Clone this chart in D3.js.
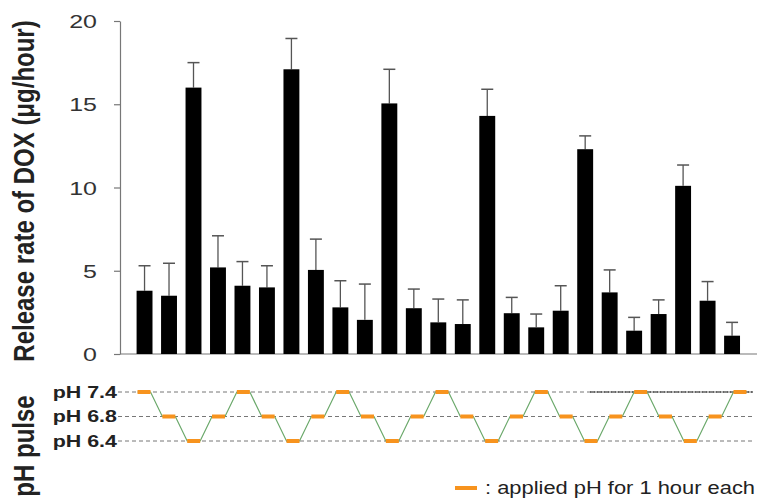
<!DOCTYPE html>
<html>
<head>
<meta charset="utf-8">
<script src="https://cdn.jsdelivr.net/npm/d3@7"></script>
<style>
  body { margin: 0; background: #fff; }
  text { font-family: "Liberation Sans", Arial, sans-serif; }
</style>
</head>
<body>
<div id="chart"></div>
<script>
// hourly samples
var hours = d3.range(1, 26);
// release rate of DOX (ug/hour), mean per hour
var release = [3.8, 3.5, 16.0, 5.2, 4.1, 4.0, 17.1, 5.05, 2.8, 2.05, 15.05, 2.75, 1.9,
               1.8, 14.3, 2.45, 1.6, 2.6, 12.3, 3.7, 1.4, 2.4, 10.1, 3.2, 1.1];
// upper error (SD)
var errors = [1.5, 1.95, 1.5, 1.9, 1.45, 1.3, 1.85, 1.85, 1.6, 2.15, 2.05, 1.15, 1.4,
              1.45, 1.6, 0.95, 0.8, 1.5, 0.8, 1.35, 0.8, 0.85, 1.25, 1.15, 0.8];
// applied pH pulse per hour
var pulse = ["pH 7.4", "pH 6.8", "pH 6.4", "pH 6.8", "pH 7.4", "pH 6.8", "pH 6.4", "pH 6.8",
             "pH 7.4", "pH 6.8", "pH 6.4", "pH 6.8", "pH 7.4", "pH 6.8", "pH 6.4", "pH 6.8",
             "pH 7.4", "pH 6.8", "pH 6.4", "pH 6.8", "pH 7.4", "pH 6.8", "pH 6.4", "pH 6.8", "pH 7.4"];
var phLevels = ["pH 7.4", "pH 6.8", "pH 6.4"];
var yTicks = [0, 5, 10, 15, 20];

var width = 760, height = 500;
var svg = d3.select("#chart").append("svg")
  .attr("width", width)
  .attr("height", height);

var data = hours.map(function(h, i) {
  return { hour: h, value: release[i], err: errors[i], ph: pulse[i] };
});

// scales
var x = d3.scaleBand()
  .domain(hours)
  .range([132.3, 744.3])
  .paddingInner(0.35)
  .paddingOuter(0.175);

var y = d3.scaleLinear()
  .domain([0, 20])
  .range([354, 21]);

var xPulse = d3.scaleBand()
  .domain(hours)
  .range([131.6, 752.4]);

var yPulse = d3.scalePoint()
  .domain(phLevels)
  .range([392, 441]);

// x axis line
svg.append("line")
  .attr("x1", 120).attr("x2", 757)
  .attr("y1", y(0)).attr("y2", y(0))
  .attr("stroke", "#777")
  .attr("stroke-width", 1.2);

// y axis
var yAxis = svg.append("g")
  .attr("transform", "translate(120,0)")
  .call(d3.axisLeft(y).tickValues(yTicks).tickSize(6).tickSizeOuter(0));
yAxis.select(".domain").attr("stroke", "#777").attr("stroke-width", 1.2);
yAxis.selectAll(".tick line").attr("stroke", "#777").attr("stroke-width", 1.2);
yAxis.selectAll(".tick text")
  .attr("x", -23 / 1.35)
  .attr("dy", "0.36em")
  .attr("transform", "scale(1.35,1)")
  .attr("fill", "#333")
  .style("font-size", "18.5px")
  .style("font-family", "'Liberation Sans', Arial, sans-serif");

// error bars
var eb = svg.append("g").selectAll("g")
  .data(data)
  .enter().append("g");

eb.append("line")
  .attr("x1", function(d) { return x(d.hour) + x.bandwidth() / 2; })
  .attr("x2", function(d) { return x(d.hour) + x.bandwidth() / 2; })
  .attr("y1", function(d) { return y(d.value); })
  .attr("y2", function(d) { return y(d.value + d.err); })
  .attr("stroke", "#555")
  .attr("stroke-width", 1.3);

eb.append("line")
  .attr("x1", function(d) { return x(d.hour) + x.bandwidth() / 2 - 6; })
  .attr("x2", function(d) { return x(d.hour) + x.bandwidth() / 2 + 6; })
  .attr("y1", function(d) { return y(d.value + d.err); })
  .attr("y2", function(d) { return y(d.value + d.err); })
  .attr("stroke", "#555")
  .attr("stroke-width", 1.5);

// bars
svg.append("g").selectAll("rect")
  .data(data)
  .enter().append("rect")
  .attr("x", function(d) { return x(d.hour); })
  .attr("width", x.bandwidth())
  .attr("y", function(d) { return y(d.value); })
  .attr("height", function(d) { return y(0) - y(d.value); })
  .attr("fill", "#000");

// y axis title
svg.append("text")
  .attr("transform", "translate(34,191) scale(1.22,1) rotate(-90)")
  .attr("text-anchor", "middle")
  .attr("fill", "#222")
  .style("font-size", "24px")
  .style("font-weight", "bold")
  .text("Release rate of DOX (μg/hour)");

// pH pulse panel
svg.append("text")
  .attr("transform", "translate(34,446) scale(1.22,1) rotate(-90)")
  .attr("text-anchor", "middle")
  .attr("fill", "#222")
  .style("font-size", "24px")
  .style("font-weight", "bold")
  .text("pH pulse");

// guide lines for each pH level
svg.append("g").selectAll("line")
  .data(phLevels)
  .enter().append("line")
  .attr("x1", 118).attr("x2", 753)
  .attr("y1", function(d) { return yPulse(d); })
  .attr("y2", function(d) { return yPulse(d); })
  .attr("stroke", "#777")
  .attr("stroke-width", 1)
  .attr("stroke-dasharray", "4,3");

// darker overdraw on the right part of the top guide
svg.append("line")
  .attr("x1", 590).attr("x2", 753)
  .attr("y1", yPulse(phLevels[0])).attr("y2", yPulse(phLevels[0]))
  .attr("stroke", "#111")
  .attr("stroke-width", 1.2)
  .attr("stroke-dasharray", "5,2");

// pH level labels
svg.append("g").selectAll("text")
  .data(phLevels)
  .enter().append("text")
  .attr("transform", function(d) { return "translate(117," + yPulse(d) + ") scale(1.3,1)"; })
  .attr("dy", "0.36em")
  .attr("text-anchor", "end")
  .attr("fill", "#222")
  .style("font-size", "16.5px")
  .style("font-weight", "bold")
  .text(function(d) { return d; });

// green connector between the hourly pulses
var dashHalf = 6.5;
var pts = [];
data.forEach(function(d) {
  var cx = xPulse(d.hour) + xPulse.bandwidth() / 2;
  pts.push([cx - dashHalf, yPulse(d.ph)]);
  pts.push([cx + dashHalf, yPulse(d.ph)]);
});
svg.append("path")
  .attr("d", d3.line()(pts))
  .attr("fill", "none")
  .attr("stroke", "#6aa86a")
  .attr("stroke-width", 1.2);

// orange dashes: applied pH
svg.append("g").selectAll("line")
  .data(data)
  .enter().append("line")
  .attr("x1", function(d) { return xPulse(d.hour) + xPulse.bandwidth() / 2 - dashHalf; })
  .attr("x2", function(d) { return xPulse(d.hour) + xPulse.bandwidth() / 2 + dashHalf; })
  .attr("y1", function(d) { return yPulse(d.ph); })
  .attr("y2", function(d) { return yPulse(d.ph); })
  .attr("stroke", "#f7931e")
  .attr("stroke-width", 4);

// legend
svg.append("line")
  .attr("x1", 455).attr("x2", 477)
  .attr("y1", 488).attr("y2", 488)
  .attr("stroke", "#f7931e")
  .attr("stroke-width", 4);

svg.append("text")
  .attr("x", 485)
  .attr("y", 494)
  .attr("fill", "#222")
  .attr("textLength", 270)
  .attr("lengthAdjust", "spacingAndGlyphs")
  .style("font-size", "17.5px")
  .text(": applied pH for 1 hour each");
</script>
</body>
</html>
